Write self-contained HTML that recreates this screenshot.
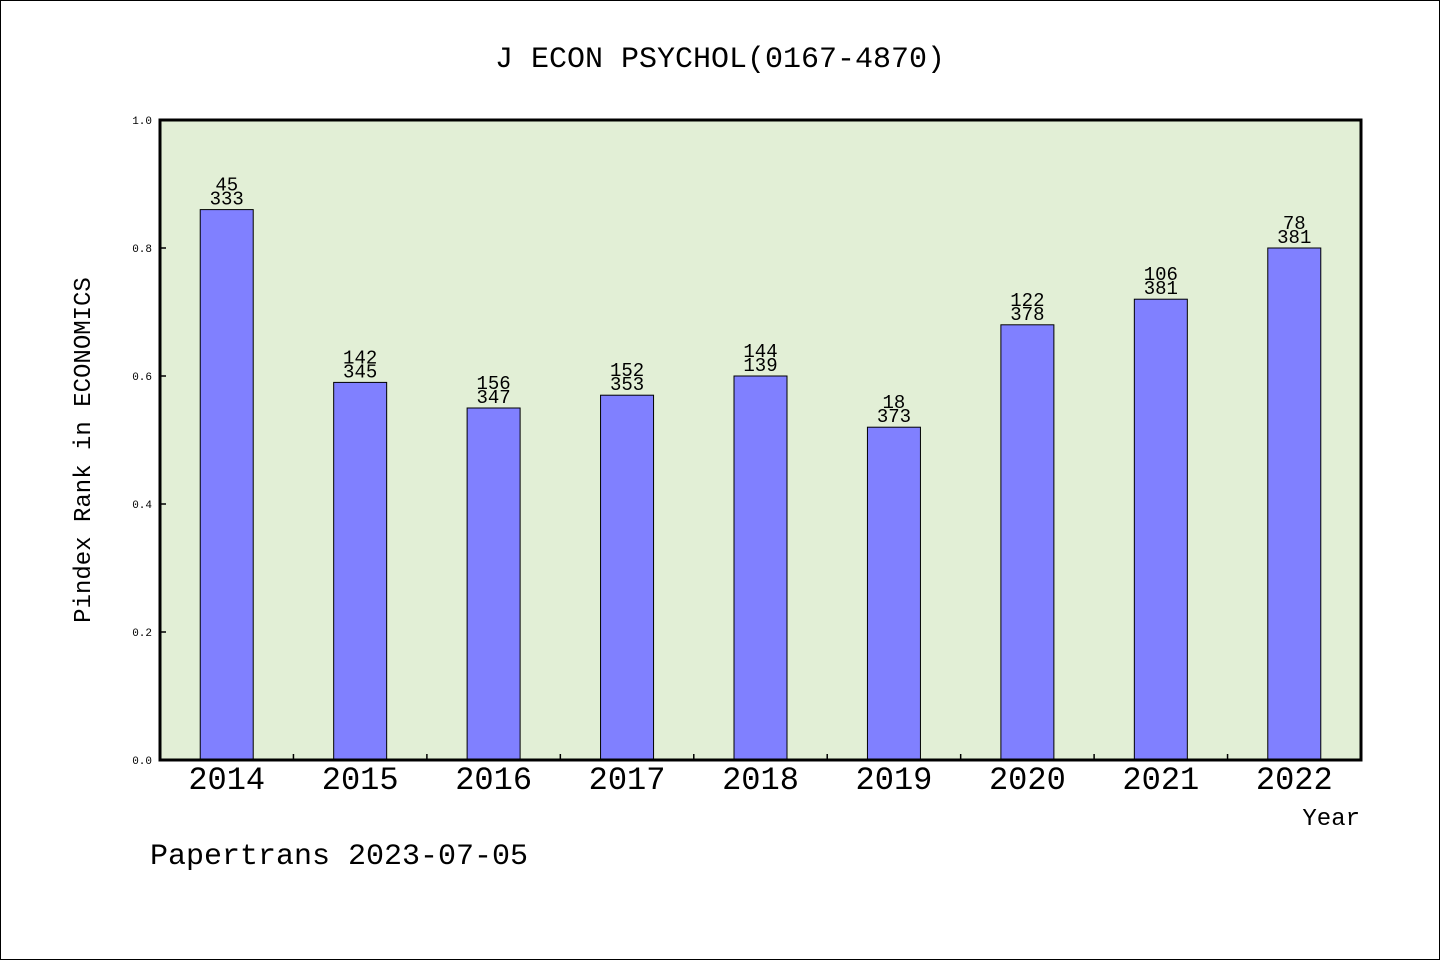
<!DOCTYPE html>
<html><head><meta charset="utf-8"><style>
body{margin:0;background:#fff}
svg text{font-family:"Liberation Mono","DejaVu Sans Mono",monospace}
</style></head><body>
<svg id="chart" width="1440" height="960" xmlns="http://www.w3.org/2000/svg">
<rect x="0.5" y="0.5" width="1439" height="959" fill="#fff" stroke="#000"/>
<text x="720" y="67" font-size="30" text-anchor="middle">J ECON PSYCHOL(0167-4870)</text>
<rect x="160" y="120" width="1201" height="640" fill="#e2efd6"/>
<g id="bars"></g>
<rect x="160" y="120" width="1201" height="640" fill="none" stroke="#000" stroke-width="3"/>
<text transform="translate(90,450) rotate(-90)" font-size="24" text-anchor="middle">Pindex Rank in ECONOMICS</text>
<text x="1360" y="825" font-size="24" text-anchor="end">Year</text>
<text x="150" y="864" font-size="30">Papertrans 2023-07-05</text>
</svg>
<script>
const years=["2014","2015","2016","2017","2018","2019","2020","2021","2022"];
const values=[0.86,0.59,0.55,0.57,0.60,0.52,0.68,0.72,0.80];
const topLabels=["45","142","156","152","144","18","122","106","78"];
const bottomLabels=["333","345","347","353","139","373","378","381","381"];
const yTicks=[0,0.2,0.4,0.6,0.8,1.0];
const X0=160,X1=1361,Y0=760,Y1=120;
const band=(X1-X0)/years.length;
const xc=i=>X0+band*(i+0.5);
const y=v=>Y0-(Y0-Y1)*v;
const NS="http://www.w3.org/2000/svg";
const g=document.getElementById('bars');
function mk(t,a){const e=document.createElementNS(NS,t);for(const k in a)e.setAttribute(k,a[k]);g.appendChild(e);return e;}
yTicks.forEach(t=>{
 const l=mk('line',{x1:X0,x2:X0+6,y1:y(t),y2:y(t),stroke:'#000','stroke-width':1.5});
 
 
 const tx=mk('text',{x:X0-8,y:y(t)+4,'font-size':11,'text-anchor':'end'});
 tx.textContent=t.toFixed(1);
 
 
});
years.forEach((yr,i)=>{
 if(i>0){const l=mk('line',{x1:X0+band*i,x2:X0+band*i,y1:Y0,y2:Y0-6,stroke:'#000','stroke-width':1.5});
 
 }
 const r=mk('rect',{x:xc(i)-26.5,y:y(values[i]),width:53,height:Y0-y(values[i]),fill:'#8080ff',stroke:'#000','stroke-width':1});
 
 
 const a=mk('text',{x:xc(i),y:y(values[i])-19,'font-size':19,'text-anchor':'middle'});
 a.textContent=topLabels[i];
 
 
 const b=mk('text',{x:xc(i),y:y(values[i])-5,'font-size':19,'text-anchor':'middle'});
 b.textContent=bottomLabels[i];
 
 
 const xl=mk('text',{x:xc(i),y:789,'font-size':32,'text-anchor':'middle','font-family':'Liberation Sans, sans-serif'});
 xl.textContent=yr;
 
 
});
</script>
</body></html>
